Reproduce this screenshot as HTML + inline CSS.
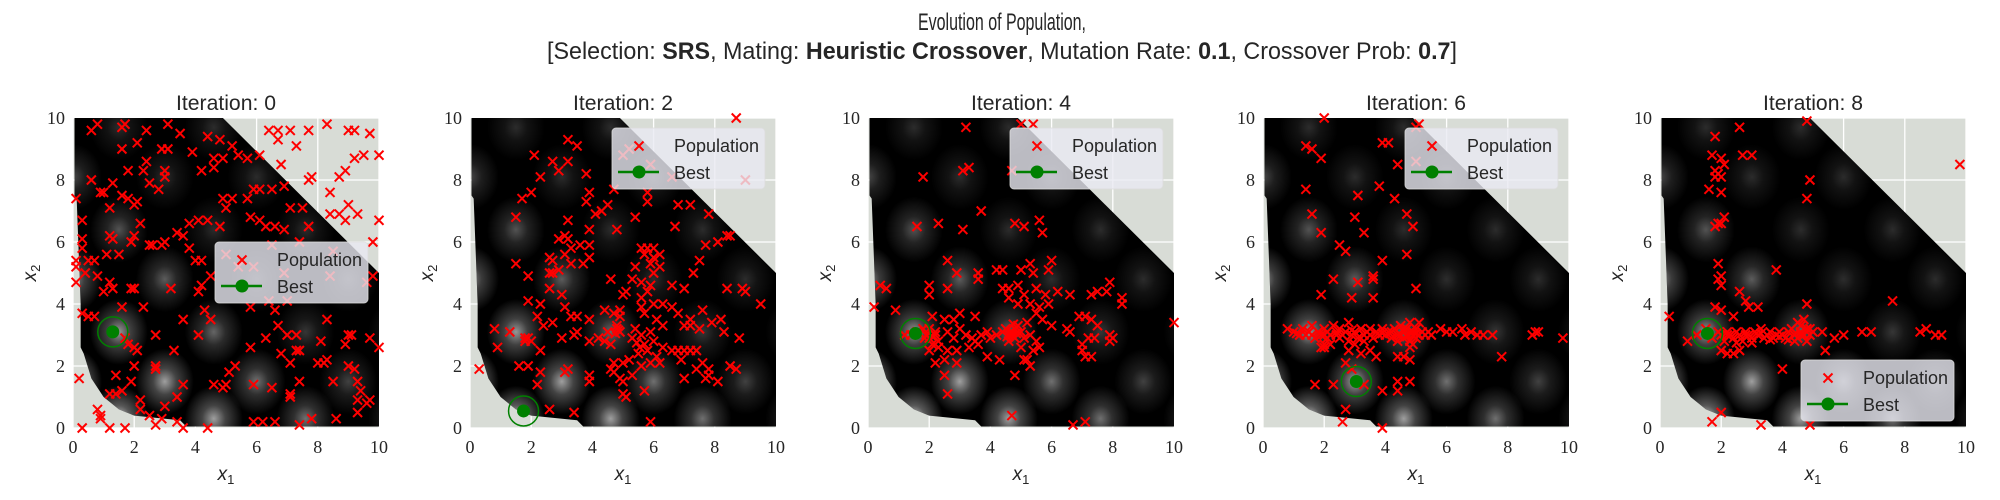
<!DOCTYPE html>
<html><head><meta charset="utf-8"><style>
html,body{margin:0;padding:0;background:#fff;}
svg{display:block;}
text{font-family:"Liberation Sans",sans-serif;fill:#262626;}
.tick{font-family:"Liberation Serif",serif;font-size:18px;}
</style></head><body>
<svg id="fig" width="2000" height="500" viewBox="0 0 2000 500" xmlns="http://www.w3.org/2000/svg">
<text x="1002" y="30" font-size="24" text-anchor="middle" textLength="168" lengthAdjust="spacingAndGlyphs">Evolution of Population,</text>
<text x="1002" y="59" font-size="24" text-anchor="middle" textLength="910" lengthAdjust="spacingAndGlyphs">[Selection: <tspan font-weight="bold">SRS</tspan>, Mating: <tspan font-weight="bold">Heuristic Crossover</tspan>, Mutation Rate: <tspan font-weight="bold">0.1</tspan>, Crossover Prob: <tspan font-weight="bold">0.7</tspan>]</text>
<defs id="defs"></defs>
</svg>
<script>
const iterations=[0,2,4,6,8];
const bestX=[1.3,1.75,1.55,3.05,1.55];
const bestY=[3.1,0.55,3.05,1.5,3.05];
const legendPos=["center-right","upper-right","upper-right","upper-right","lower-right"];
const xTicks=[0,2,4,6,8,10];
const yTicks=[0,2,4,6,8,10];
const pop0=[[0.6,9.6],[0.8,9.8],[1.6,9.7],[1.7,9.8],[2.4,9.6],[3.1,9.8],[3.5,9.5],[4.4,9.4],[4.8,9.3],[6.4,9.6],[6.7,9.6],[7.1,9.6],[7.7,9.6],[8.3,9.8],[9.0,9.6],[9.2,9.6],[9.7,9.5],[6.7,9.3],[7.3,9.1],[1.6,9.0],[2.1,9.2],[2.9,9.0],[3.1,9.0],[3.9,8.9],[5.2,9.1],[5.4,8.8],[5.7,8.7],[6.1,8.8],[4.6,8.7],[4.9,8.7],[10,8.8],[9.5,8.8],[9.2,8.7],[6.8,8.5],[2.4,8.6],[8.9,8.3],[8.7,8.1],[7.8,8.1],[7.7,8.0],[0.6,8.0],[1.3,7.9],[1.8,8.3],[2.3,8.3],[2.5,7.9],[3.0,8.3],[3.0,8.1],[4.2,8.3],[4.6,8.4],[5.9,7.7],[6.1,7.7],[6.5,7.7],[6.9,7.8],[0.9,7.6],[1.0,7.6],[2.8,7.7],[1.6,7.5],[1.8,7.4],[2.0,7.2],[2.1,7.3],[0.1,7.4],[4.9,7.4],[5.2,7.4],[5.7,7.4],[5.0,7.1],[1.2,7.1],[7.1,7.1],[7.5,7.1],[8.4,7.6],[9.0,7.2],[9.3,6.9],[8.7,6.9],[8.9,6.7],[8.4,6.9],[7.7,6.5],[10,6.7],[0.3,6.7],[2.2,6.6],[3.8,6.6],[4.1,6.7],[4.4,6.7],[4.8,6.5],[5.8,6.8],[6.1,6.7],[6.3,6.5],[6.9,6.4],[6.6,6.5],[3.4,6.3],[3.6,6.2],[1.2,6.2],[1.3,6.1],[1.9,6.0],[2.0,6.2],[0.3,6.1],[0.3,5.8],[2.5,5.9],[2.6,5.9],[2.9,5.9],[3.0,6.0],[3.8,5.8],[5.0,5.6],[5.4,5.2],[6.5,5.9],[7.4,6.0],[9.8,6.0],[1.1,5.6],[1.5,5.6],[0.1,5.4],[0.5,5.4],[0.7,5.4],[0.1,5.2],[4.0,5.4],[4.2,5.4],[5.9,5.2],[8.5,5.7],[0.4,5.0],[0.8,4.9],[4.5,4.9],[6.9,5.0],[8.4,4.9],[9.6,4.7],[9.8,4.9],[0.1,4.7],[1.2,4.7],[1.3,4.5],[1.9,4.5],[2.0,4.5],[3.2,4.5],[4.2,4.6],[4.1,4.4],[1.0,4.4],[6.4,4.1],[5.8,3.9],[7.0,4.1],[1.6,3.9],[2.3,3.9],[4.3,3.8],[6.6,3.8],[0.3,3.7],[0.5,3.6],[0.7,3.6],[3.6,3.5],[4.5,3.5],[8.3,3.5],[6.7,3.3],[7.0,3.0],[7.3,3.0],[9.0,3.0],[9.1,3.0],[2.7,3.0],[4.1,3.0],[1.7,2.9],[1.8,2.7],[6.3,2.9],[8.1,2.8],[8.9,2.7],[9.7,2.9],[10,2.6],[2.0,2.6],[2.1,2.5],[3.3,2.5],[5.8,2.6],[7.3,2.5],[7.4,2.5],[6.8,2.4],[7.1,2.1],[8.3,2.2],[8.2,2.1],[8.0,2.1],[9.0,2.0],[9.2,1.9],[2.0,2.0],[2.7,2.0],[2.7,1.9],[5.3,2.0],[5.1,1.8],[1.4,1.7],[0.2,1.6],[1.9,1.5],[3.6,1.4],[4.6,1.4],[5.0,1.4],[4.9,1.3],[5.9,1.4],[6.5,1.3],[7.4,1.5],[8.5,1.5],[9.3,1.5],[9.4,1.2],[7.1,1.1],[7.1,1.0],[1.2,1.1],[1.4,1.1],[1.6,1.2],[3.4,1.0],[2.2,0.9],[2.2,0.6],[3.0,0.7],[0.8,0.6],[0.9,0.4],[0.9,0.3],[9.3,0.9],[9.7,0.9],[9.6,0.8],[9.3,0.5],[2.5,0.4],[3.4,0.2],[2.9,0.3],[2.7,0.1],[3.6,0.0],[0.3,0.0],[1.2,0.0],[1.7,0.0],[4.4,0.0],[5.9,0.2],[6.2,0.2],[6.6,0.2],[7.4,0.1],[7.8,0.3],[8.6,0.3]];
const pop2=[[8.7,10],[3.2,9.3],[3.5,9.1],[2.1,8.8],[2.7,8.6],[3.2,8.6],[2.9,8.3],[2.3,8.1],[3.8,8.2],[9.0,8.0],[5.2,9.0],[5.0,8.8],[5.9,8.5],[6.6,8.1],[1.7,7.4],[2.0,7.6],[3.9,7.6],[3.8,7.3],[4.7,7.7],[5.8,7.6],[5.8,7.3],[4.5,7.2],[4.3,7.0],[4.1,6.9],[5.4,6.8],[6.8,7.2],[7.2,7.2],[7.8,6.9],[1.5,6.8],[3.2,6.7],[6.7,6.5],[4.8,6.4],[3.9,6.4],[3.1,6.2],[3.2,6.1],[2.9,6.1],[3.6,5.9],[3.9,5.9],[3.3,5.8],[3.1,5.6],[3.9,5.5],[3.7,5.3],[2.6,5.5],[2.7,5.4],[1.5,5.3],[2.7,5.0],[2.6,5.0],[2.9,5.1],[1.9,4.9],[3.3,5.3],[5.6,5.8],[5.8,5.8],[6.0,5.8],[5.7,5.6],[6.2,5.6],[6.0,5.5],[5.9,5.3],[6.2,5.2],[6.0,5.0],[5.4,5.2],[5.3,4.8],[4.6,4.8],[5.6,4.7],[6.6,4.6],[7.0,4.5],[7.3,5.0],[7.5,5.4],[7.7,5.9],[8.1,6.0],[8.4,6.2],[8.5,6.2],[8.4,4.5],[8.9,4.5],[9.5,4.0],[5.1,4.4],[5.0,4.3],[5.8,4.4],[5.9,4.6],[5.6,4.2],[2.6,4.5],[3.0,4.3],[1.9,4.1],[2.3,4.0],[3.1,3.9],[3.3,3.6],[3.5,3.6],[3.9,3.5],[4.4,3.8],[4.7,3.7],[4.9,3.8],[4.9,3.6],[5.6,3.9],[5.7,3.7],[6.0,4.0],[6.3,4.0],[6.6,3.9],[6.8,3.7],[7.2,3.5],[7.6,3.8],[7.9,3.4],[8.2,3.5],[2.2,3.6],[2.4,3.3],[2.7,3.4],[0.8,3.2],[1.3,3.1],[1.8,2.9],[1.9,2.9],[1.8,2.8],[2.0,2.8],[3.0,2.9],[3.4,3.0],[3.5,3.1],[3.9,2.8],[4.2,2.9],[4.4,2.8],[4.5,3.1],[4.8,3.3],[4.9,3.1],[4.8,3.2],[4.6,2.7],[5.3,2.9],[5.4,3.2],[5.6,3.0],[5.7,2.7],[5.9,3.1],[6.0,2.8],[6.1,3.5],[6.3,3.3],[6.3,2.6],[6.6,2.5],[6.8,2.5],[7.0,2.5],[7.2,2.5],[7.4,2.5],[7.2,3.3],[7.5,3.2],[7.0,3.3],[8.3,3.1],[8.8,2.9],[0.9,2.6],[2.3,2.5],[5.5,2.4],[5.8,2.5],[6.1,2.3],[6.2,2.1],[5.9,2.1],[5.6,2.0],[5.2,2.2],[5.0,2.1],[4.7,2.1],[4.6,1.9],[6.9,2.2],[7.6,2.1],[7.8,1.9],[7.4,1.9],[0.3,1.9],[1.6,2.0],[1.9,2.0],[3.2,1.9],[3.1,1.8],[2.3,1.8],[3.9,1.7],[3.9,1.5],[4.7,1.8],[4.9,1.6],[5.3,1.7],[5.0,1.5],[7.0,1.6],[7.7,1.6],[7.8,1.7],[8.1,1.5],[2.2,1.4],[5.7,1.2],[5.0,1.1],[5.1,1.0],[2.6,0.6],[3.4,0.5],[5.9,0.2],[8.5,2.0],[8.7,1.9],[9.0,4.4],[4.85,3.15],[4.75,3.05],[5.45,2.75],[5.55,2.6]];
const pop4=[[3.2,9.7],[5.0,9.8],[5.4,9.8],[3.1,8.3],[3.3,8.4],[4.7,8.3],[1.8,8.1],[3.7,7.0],[1.6,6.5],[2.3,6.6],[3.1,6.4],[4.8,6.6],[5.1,6.5],[5.6,6.7],[5.7,6.3],[2.6,5.4],[2.9,5.0],[3.6,5.0],[3.6,4.8],[4.2,5.1],[4.4,5.1],[5.0,5.1],[5.3,5.3],[5.4,5.0],[6.0,5.4],[5.9,5.1],[0.4,4.6],[0.6,4.5],[2.0,4.6],[2.0,4.3],[2.6,4.5],[4.4,4.5],[4.6,4.5],[4.9,4.6],[5.1,4.3],[5.5,4.5],[5.8,4.3],[6.2,4.4],[6.6,4.3],[7.3,4.3],[7.5,4.4],[7.8,4.4],[7.9,4.7],[8.3,4.2],[8.3,4.0],[0.2,3.9],[0.9,3.8],[4.6,4.2],[4.9,4.0],[5.3,4.0],[5.6,3.9],[5.9,4.0],[5.5,3.7],[5.7,3.5],[2.1,3.6],[2.5,3.5],[2.8,3.5],[3.0,3.7],[3.5,3.6],[1.2,3.0],[1.8,3.2],[1.9,3.0],[2.0,2.9],[2.2,3.0],[2.3,2.8],[2.1,2.7],[2.6,3.1],[2.8,2.9],[3.0,3.2],[3.2,3.0],[3.4,2.9],[3.5,2.8],[3.7,3.0],[3.9,3.1],[4.0,2.9],[4.2,3.0],[4.4,3.1],[4.5,3.2],[4.6,3.0],[4.7,3.1],[4.8,2.9],[4.9,3.3],[5.0,3.1],[5.2,3.4],[5.3,3.0],[5.5,2.8],[5.0,2.6],[5.4,2.5],[5.6,2.6],[6.0,3.3],[6.5,3.2],[6.9,3.6],[7.1,3.6],[7.3,3.5],[7.5,3.3],[6.6,3.1],[7.2,2.9],[7.0,2.7],[7.4,2.9],[7.9,3.0],[8.0,2.9],[7.9,2.8],[7.0,2.5],[7.1,2.3],[7.3,2.3],[10,3.4],[2.0,2.5],[2.3,2.6],[2.6,2.5],[2.9,2.5],[3.6,2.7],[3.3,2.6],[2.5,2.2],[2.2,2.1],[3.9,2.3],[4.3,2.2],[5.2,2.2],[5.3,2.0],[5.1,2.2],[2.9,2.1],[2.5,1.7],[4.8,1.7],[2.6,1.1],[4.7,0.4],[6.7,0.1],[7.1,0.2],[4.7,3.0],[4.8,3.2],[4.6,2.8],[5.1,2.9],[1.4,3.0],[1.6,3.1],[2.2,3.1],[2.0,3.2],[4.75,3.35],[4.65,3.1],[4.85,3.05],[4.55,2.95],[2.1,2.95],[1.85,2.9]];
const pop6=[[2.0,10],[1.4,9.1],[1.6,9.0],[1.9,8.7],[3.9,9.2],[4.1,9.2],[5.1,9.8],[5.0,9.7],[4.4,8.5],[5.0,8.6],[1.4,7.7],[3.1,7.5],[3.8,7.8],[4.3,7.4],[1.6,6.9],[3.0,6.8],[4.7,6.9],[4.9,6.5],[1.9,6.3],[3.3,6.3],[2.5,5.9],[2.7,5.7],[4.7,5.6],[3.9,5.4],[3.6,4.9],[3.6,4.8],[2.3,4.8],[3.1,4.7],[5.0,4.5],[1.9,4.3],[2.9,4.2],[3.6,4.2],[5.8,3.2],[6.0,3.1],[6.2,3.1],[6.5,3.2],[6.6,3.0],[6.8,3.1],[7.0,3.0],[7.2,3.0],[7.5,3.0],[8.8,3.0],[8.9,3.1],[9.0,3.1],[9.8,2.9],[7.8,2.3],[2.0,2.6],[2.8,2.5],[3.2,2.4],[3.5,2.5],[3.7,2.3],[4.4,2.3],[4.6,2.3],[4.8,2.2],[4.8,2.6],[2.7,2.1],[2.9,1.9],[1.7,1.4],[2.3,1.4],[3.3,1.4],[3.9,1.2],[4.4,1.5],[4.4,1.2],[4.8,1.5],[2.7,0.6],[2.6,0.2],[3.9,0.0],[0.8,3.2],[1.0,3.1],[1.2,3.0],[1.3,3.2],[1.4,3.0],[1.5,3.1],[1.6,3.3],[1.7,2.9],[1.8,3.1],[1.9,3.0],[2.0,3.2],[2.1,2.9],[2.1,3.1],[2.2,3.0],[2.3,3.3],[2.4,3.1],[2.5,2.9],[2.5,3.2],[2.6,3.0],[2.7,3.1],[2.8,3.4],[2.8,2.8],[2.9,3.0],[3.0,3.1],[3.1,2.9],[3.2,3.2],[3.3,3.0],[3.4,3.1],[3.5,3.2],[3.6,2.9],[3.7,3.1],[3.8,3.0],[3.9,3.2],[4.0,3.0],[4.1,3.1],[4.2,2.9],[4.3,3.2],[4.4,3.0],[4.5,3.3],[4.6,3.1],[4.6,2.9],[4.7,3.2],[4.7,3.0],[4.8,3.4],[4.8,2.8],[4.9,3.1],[4.9,3.0],[5.0,3.2],[5.0,2.9],[5.1,3.0],[5.1,3.4],[5.2,3.1],[5.3,3.0],[5.4,3.1],[5.5,3.0],[2.0,2.7],[2.2,2.7],[1.9,2.6],[3.0,2.7],[3.3,2.8],[4.4,2.8],[4.9,2.7],[1.1,3.05],[1.6,3.0],[2.0,3.0],[2.4,3.0],[2.9,3.15],[3.5,3.0],[3.9,3.05],[4.2,3.1],[4.5,3.0],[4.8,3.1],[5.0,3.05],[4.6,3.2],[4.7,2.95]];
const pop8=[[4.8,9.9],[2.6,9.7],[1.8,9.4],[1.7,8.8],[2.0,8.7],[2.1,8.5],[1.8,8.3],[1.9,8.2],[1.8,8.1],[2.0,8.1],[2.7,8.8],[3.0,8.8],[9.8,8.5],[4.9,8.0],[4.8,7.4],[1.6,7.7],[2.0,7.6],[2.1,6.8],[1.9,6.6],[1.8,6.5],[2.0,6.6],[1.9,5.3],[2.0,4.9],[1.9,4.8],[2.0,4.6],[3.8,5.1],[2.6,4.4],[2.8,4.1],[2.9,3.9],[3.2,3.9],[4.8,4.0],[7.6,4.1],[1.8,3.9],[2.0,3.8],[2.4,3.6],[0.3,3.6],[0.9,2.8],[5.3,3.1],[5.7,2.9],[6.0,3.0],[6.6,3.1],[6.9,3.1],[8.5,3.1],[8.7,3.2],[9.0,3.0],[9.2,3.0],[5.4,2.5],[2.0,2.5],[2.2,2.4],[2.4,2.4],[2.6,2.5],[4.0,1.9],[1.7,0.2],[2.0,0.5],[3.3,0.1],[4.9,0.1],[1.2,3.0],[1.5,3.2],[1.7,2.9],[1.9,3.1],[2.0,3.0],[2.1,2.8],[2.2,3.1],[2.3,3.0],[2.4,2.9],[2.5,3.1],[2.6,3.0],[2.7,2.8],[2.8,3.1],[2.9,3.0],[3.0,2.9],[3.1,3.1],[3.2,3.0],[3.3,3.2],[3.4,2.9],[3.5,3.0],[3.6,3.1],[3.7,2.9],[3.8,3.0],[3.9,3.1],[4.0,3.0],[4.1,2.9],[4.2,3.1],[4.3,3.2],[4.4,3.0],[4.5,3.4],[4.5,2.9],[4.6,3.3],[4.6,3.1],[4.7,3.5],[4.7,3.0],[4.8,3.2],[4.8,2.8],[4.9,3.0],[5.0,3.1],[4.4,2.8],[3.0,2.75],[2.5,2.75],[4.2,2.85],[3.6,2.85],[2.8,3.0],[2.2,3.0],[3.3,3.05],[3.9,2.95],[4.6,3.0],[4.9,3.2]];
const populations=[pop0,pop2,pop4,pop6,pop8];

const NS="http://www.w3.org/2000/svg";
const svg=document.getElementById('fig');
const defs=document.getElementById('defs');
const lefts=[73,470,868,1263,1660];
const TOP=118,W=306,H=310;
function mk(tag,attrs,parent){const e=document.createElementNS(NS,tag);for(const k in attrs)e.setAttribute(k,attrs[k]);(parent||svg).appendChild(e);return e;}

const rg=mk('radialGradient',{id:'bump'},defs);
mk('stop',{offset:'0','stop-color':'#fff','stop-opacity':'0.95'},rg);
mk('stop',{offset:'0.4','stop-color':'#fff','stop-opacity':'0.4'},rg);
mk('stop',{offset:'1','stop-color':'#fff','stop-opacity':'0'},rg);
const region=[[0.05,10],[4.9,10],[10,5],[10,0.05],[3.7,0.05],[3.5,0.25],[2.0,0.4],[1.5,0.6],[1.0,1.0],[0.6,1.6],[0.35,2.4],[0.25,2.6],[0.25,4],[0.12,7.4],[0.05,7.5]];
const lattice=[];
const rowsY=[0.3,1.5,3.1,4.8,6.4,8.1,9.7];
rowsY.forEach((ry,i)=>{const xs=(i%2===1)?[0,3.0,6.0,9.0]:[1.5,4.6,7.6,10.6];xs.forEach(x=>lattice.push([x,ry]));});

iterations.forEach((it,p)=>{
  const L=lefts[p];
  const sx=v=>L+v*W/10, sy=v=>TOP+H-v*H/10;
  const g=mk('g',{});
  
  
  const bg=mk('rect',{x:L,y:TOP,width:W,height:H,fill:'#d8dcd6'},g);
  
  
  xTicks.forEach(t=>{
    const gl=mk('line',{x1:sx(t),x2:sx(t),y1:TOP,y2:TOP+H,stroke:'#fff','stroke-width':1.3},g);
    
    
    const tl=mk('text',{x:sx(t),y:TOP+H+25,'text-anchor':'middle',class:'tick'},g);
    
    
    tl.textContent=t;
  });
  yTicks.forEach(t=>{
    const gl=mk('line',{x1:L,x2:L+W,y1:sy(t),y2:sy(t),stroke:'#fff','stroke-width':1.3},g);
    
    
    const tl=mk('text',{x:L-8,y:sy(t)+6,'text-anchor':'end',class:'tick'},g);
    
    
    tl.textContent=t;
  });
  const cp=mk('clipPath',{id:'reg'+p},defs);
  mk('polygon',{points:region.map(q=>sx(q[0])+','+sy(q[1])).join(' ')},cp);
  const land=mk('g',{'clip-path':'url(#reg'+p+')'},g);
  
  
  mk('rect',{x:L,y:TOP,width:W,height:H,fill:'#000'},land);
  lattice.forEach(q=>{
    const inten=Math.max(0.18,Math.min(0.9,0.98-0.065*(q[0]+1.3*q[1])));
    mk('ellipse',{cx:sx(q[0]),cy:sy(q[1]),rx:29,ry:33,fill:'url(#bump)',opacity:inten},land);
  });
  const t=mk('text',{x:L+W/2,y:TOP-8,'text-anchor':'middle','font-size':21,textLength:100,lengthAdjust:'spacingAndGlyphs'},g);
  
  
  t.textContent='Iteration: '+it;
  const xl=mk('text',{x:L+W/2,y:TOP+H+52,'text-anchor':'middle','font-family':'Liberation Serif,serif','font-style':'italic','font-size':19},g);
  
  
  xl.innerHTML='x<tspan font-size="13" dy="4" font-style="normal">1</tspan>';
  const yl=mk('text',{x:0,y:0,transform:'translate('+(L-37)+','+(TOP+H/2)+') rotate(-90)','text-anchor':'middle','font-family':'Liberation Serif,serif','font-style':'italic','font-size':19},g);
  
  
  yl.innerHTML='x<tspan font-size="13" dy="4" font-style="normal">2</tspan>';
  const pg=mk('g',{stroke:'#ff0000','stroke-width':2},g);
  
  
  populations[p].forEach(q=>{
    const cx=sx(q[0]),cy=sy(q[1]),s=4.5;
    const m=mk('path',{d:`M${cx-s},${cy-s}L${cx+s},${cy+s}M${cx-s},${cy+s}L${cx+s},${cy-s}`},pg);
    
    
  });
  const bx=sx(bestX[p]),by=sy(bestY[p]);
  const ring=mk('circle',{cx:bx,cy:by,r:15,fill:'none',stroke:'#008000','stroke-width':1.5},g);
  
  
  const dot=mk('circle',{cx:bx,cy:by,r:6.5,fill:'#008000'},g);
  
  
  let lx,ly;
  if(legendPos[p]==='center-right'){lx=L+142;ly=242;}
  else if(legendPos[p]==='upper-right'){lx=L+142;ly=128;}
  else {lx=L+141;ly=360;}
  const lg=mk('g',{},g);
  
  
  mk('rect',{x:lx,y:ly,width:153,height:61,rx:4,fill:'rgba(234,234,242,0.8)',stroke:'rgba(220,220,220,0.8)'},lg);
  const mx=lx+27,my=ly+18;
  mk('path',{d:`M${mx-4.5},${my-4.5}L${mx+4.5},${my+4.5}M${mx-4.5},${my+4.5}L${mx+4.5},${my-4.5}`,stroke:'#ff0000','stroke-width':2},lg);
  const t1=mk('text',{x:lx+62,y:ly+24,'font-size':18},lg);
  
  
  t1.textContent='Population';
  mk('line',{x1:lx+6,x2:lx+47,y1:ly+44,y2:ly+44,stroke:'#008000','stroke-width':2.5},lg);
  mk('circle',{cx:lx+27,cy:ly+44,r:6.5,fill:'#008000'},lg);
  const t2=mk('text',{x:lx+62,y:ly+51,'font-size':18},lg);
  
  
  t2.textContent='Best';
});
</script>
</body></html>
